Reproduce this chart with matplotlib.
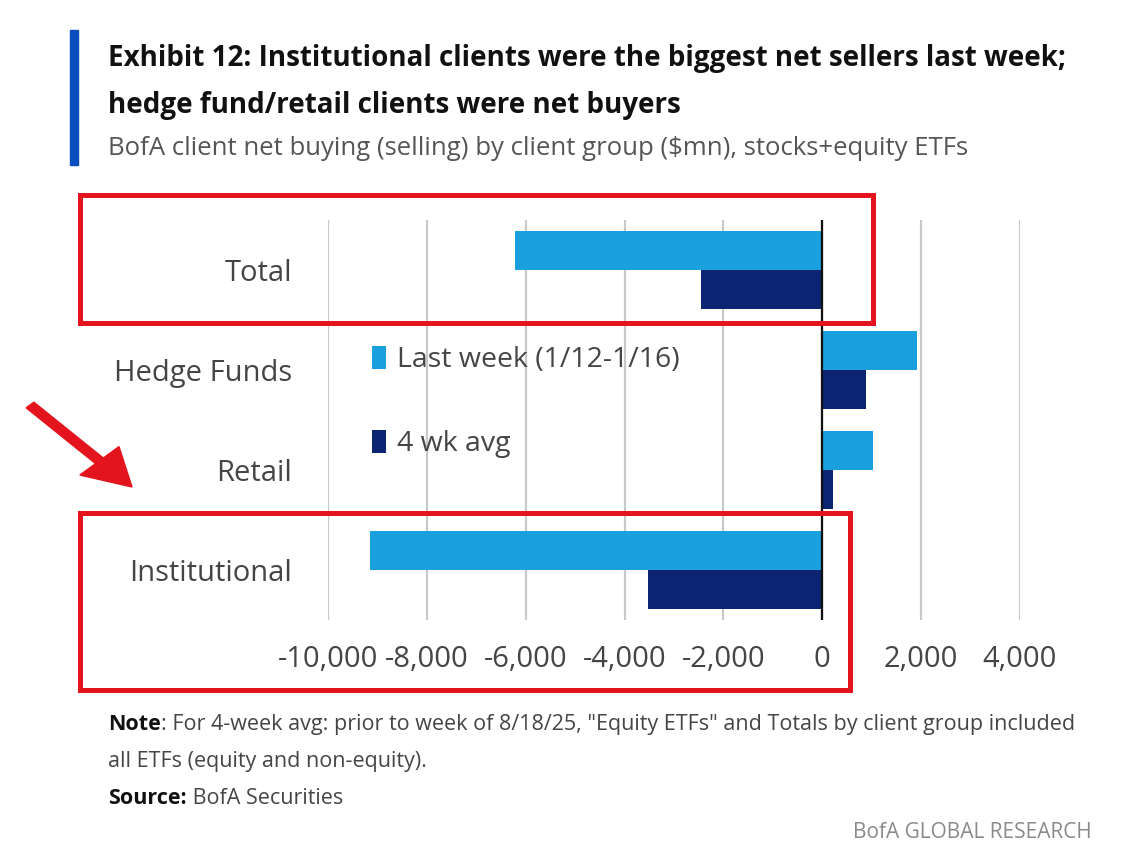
import matplotlib
matplotlib.use("Agg")
import matplotlib.pyplot as plt
from matplotlib import font_manager
from matplotlib.patches import Rectangle
import numpy as np

# data ($mn)
groups = ["Total", "Hedge Funds", "Retail", "Institutional"]
last_week = [-6220, 1920, 1030, -9150]
four_wk_avg = [-2450, 880, 220, -3530]
series_labels = ["Last week (1/12-1/16)", "4 wk avg"]
x_ticks = [-10000, -8000, -6000, -4000, -2000, 0, 2000, 4000]

W, H = 1125, 860
LIGHT = "#1a9fdf"
DARK = "#0b2572"
RED = "#e3141d"
GREY_TXT = "#454545"

installed = {f.name for f in font_manager.fontManager.ttflist}
narrow = "Liberation Sans Narrow" if "Liberation Sans Narrow" in installed else "Open Sans"
plt.rcParams["font.family"] = narrow


def fx(px):
    return px / W


def fy(py):
    return 1 - py / H


fig = plt.figure(figsize=(W / 100, H / 100), dpi=100)

# title block with the blue side bar
fig.patches.append(Rectangle((fx(70), fy(165)), fx(8), 135 / H, transform=fig.transFigure,
                             color="#0a4dbd", zorder=1))
fig.text(fx(108), fy(66), "Exhibit 12: Institutional clients were the biggest net sellers last week;",
         fontsize=20, fontweight="bold", color="#111111", va="baseline")
fig.text(fx(108), fy(113), "hedge fund/retail clients were net buyers",
         fontsize=20, fontweight="bold", color="#111111", va="baseline")
fig.text(fx(108), fy(155), "BofA client net buying (selling) by client group ($mn), stocks+equity ETFs",
         fontsize=18.5, color="#555555", va="baseline")

# main chart
ax = fig.add_axes([fx(328), fy(620), fx(1020) - fx(328), 400 / H])
y = np.arange(len(groups))
h = 0.39
b1 = ax.barh(y - h / 2, last_week, height=h, color=LIGHT, label=series_labels[0], zorder=3)
b2 = ax.barh(y + h / 2, four_wk_avg, height=h, color=DARK, label=series_labels[1], zorder=3)
ax.set_xlim(-10000, 4000)
ax.set_ylim(len(groups) - 0.5, -0.5)
ax.set_xticks(x_ticks)
ax.set_xticklabels([f"{v:,}" for v in x_ticks])
ax.set_yticks(y)
ax.set_yticklabels(groups)
ax.grid(axis="x", color="#c9c9c9", lw=1.6, zorder=0)
ax.axvline(0, color="#111111", lw=1.6, zorder=4)
for s in ax.spines.values():
    s.set_visible(False)
ax.tick_params(length=0, labelsize=21, labelcolor=GREY_TXT)
ax.tick_params(axis="x", pad=18)
ax.tick_params(axis="y", pad=26)

ax.legend(handles=[b1, b2], loc="upper left", bbox_to_anchor=(fx(346), fy(320)),
          bbox_transform=fig.transFigure, frameon=False, fontsize=20.5,
          handlelength=0.5, handleheight=0.9, handletextpad=0.4,
          labelspacing=1.95, labelcolor=GREY_TXT)

# red highlight boxes and arrow
for x0, y0, x1, y1 in [(80, 195, 873, 323), (80, 513, 850, 690)]:
    fig.patches.append(Rectangle((fx(x0), fy(y1)), fx(x1 - x0), (y1 - y0) / H,
                                 transform=fig.transFigure, fill=False,
                                 edgecolor=RED, lw=3.6, zorder=10))
fig.patches.append(matplotlib.patches.FancyArrow(
    fx(30), fy(405), fx(102), fy(487) - fy(405), width=0.0095,
    head_width=0.048, head_length=0.042, length_includes_head=True,
    transform=fig.transFigure, color=RED, zorder=10))

# notes
fig.canvas.draw()
r = fig.canvas.get_renderer()


def two_part(xpx, ypx, bold, rest, size=15.5):
    t = fig.text(fx(xpx), fy(ypx), bold, fontsize=size, fontweight="bold",
                 color="#111111", va="baseline")
    bb = t.get_window_extent(renderer=r)
    fig.text(bb.x1 / W, fy(ypx), rest, fontsize=size, color=GREY_TXT, va="baseline")


two_part(108, 730, "Note", ": For 4-week avg: prior to week of 8/18/25, \"Equity ETFs\" and Totals by client group included")
fig.text(fx(108), fy(767), "all ETFs (equity and non-equity).", fontsize=15.5, color=GREY_TXT, va="baseline")
two_part(108, 804, "Source:", " BofA Securities")
fig.text(fx(1092), fy(838), "BofA GLOBAL RESEARCH", fontsize=15, color="#8a8a8a",
         ha="right", va="baseline")

fig.savefig("out.png", dpi=100)
